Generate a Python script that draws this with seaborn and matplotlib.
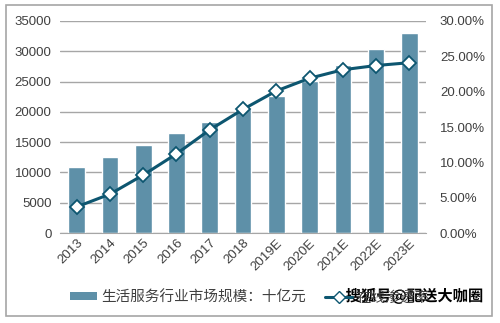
import matplotlib
matplotlib.use("Agg")
import matplotlib.pyplot as plt
import seaborn as sns
import pandas as pd
import numpy as np
from matplotlib.patches import Patch, Rectangle
from matplotlib.lines import Line2D
from matplotlib.ticker import FuncFormatter, MultipleLocator
import matplotlib.patheffects as pe

years = ["2013", "2014", "2015", "2016", "2017", "2018", "2019E", "2020E", "2021E", "2022E", "2023E"]
market_size = [10900, 12600, 14600, 16500, 18400, 20700, 22700, 25100, 27700, 30400, 33000]
online_rate = [0.037, 0.055, 0.082, 0.112, 0.146, 0.175, 0.201, 0.219, 0.231, 0.237, 0.241]
bar_label = "生活服务行业市场规模：十亿元"
line_label = "在线渗透率"
watermark = "搜狐号@配送大咖圈"

sns.set_style("white")
plt.rcParams['font.family'] = ['Liberation Sans', 'Noto Sans CJK SC', 'DejaVu Sans']

bar_color = "#5E90A8"
line_color = "#0D5670"
text_color = "#404040"

df = pd.DataFrame({"year": years, "size": market_size, "rate": online_rate,
                   "pos": np.arange(len(years))})

fig = plt.figure(figsize=(5.0, 3.23), dpi=100)
ax = fig.add_axes([0.12, 0.2786, 0.732, 0.6564])

sns.barplot(data=df, x="year", y="size", color=bar_color, width=0.5, saturation=1,
            ax=ax, zorder=2)
ax.set_xlim(-0.5, len(years) - 0.5)
ax.set_ylim(0, 35000)
ax.yaxis.set_major_locator(MultipleLocator(5000))
ax.grid(axis="y", color="#A6A6A6", linewidth=1.0, zorder=0)
ax.set_axisbelow(True)
ax.set_xlabel("")
ax.set_ylabel("")
for s in ["top", "left", "right"]:
    ax.spines[s].set_visible(False)
ax.spines["bottom"].set_color("#A6A6A6")
ax.tick_params(axis="y", length=0, labelsize=9.5, labelcolor=text_color, pad=6)
ax.tick_params(axis="x", length=0, labelsize=9.5, labelcolor=text_color, pad=3)
for lbl in ax.get_xticklabels():
    lbl.set_rotation(45)
    lbl.set_ha("right")
    lbl.set_rotation_mode("anchor")

ax2 = ax.twinx()
sns.lineplot(data=df, x="pos", y="rate", color=line_color, linewidth=2.2,
             marker="D", markersize=7, markerfacecolor="white",
             markeredgecolor=line_color, markeredgewidth=1.3, ax=ax2, zorder=3)
ax2.set_ylim(0, 0.30)
ax2.set_xlim(-0.5, len(years) - 0.5)
ax2.yaxis.set_major_locator(MultipleLocator(0.05))
ax2.yaxis.set_major_formatter(FuncFormatter(lambda v, p: f"{v*100:.2f}%"))
ax2.set_ylabel("")
ax2.set_xlabel("")
for s in ["top", "left", "right", "bottom"]:
    ax2.spines[s].set_visible(False)
ax2.tick_params(axis="y", length=0, labelsize=9.5, labelcolor=text_color, pad=10)

handles = [Patch(facecolor=bar_color, edgecolor="none"),
           Line2D([0], [0], color=line_color, linewidth=2.2, marker="D", markersize=6,
                  markerfacecolor="white", markeredgecolor=line_color)]
fig.legend(handles, [bar_label, line_label], loc="center left", bbox_to_anchor=(0.14, 0.08),
           ncol=2, frameon=False, fontsize=10.5, handlelength=1.85, handleheight=0.5,
           columnspacing=1.3, labelcolor=text_color, handletextpad=0.3,
           borderpad=0, borderaxespad=0)

fig.patches.append(Rectangle((6/500, 1 - 316/323), 486/500, 311/323, transform=fig.transFigure,
                             fill=False, edgecolor="#A6A6A6", linewidth=1.2))

fig.text(0.966, 0.083, watermark, ha="right", va="center", fontsize=11, fontweight="bold",
         color="black", family=['Noto Sans CJK SC', 'DejaVu Sans'],
         path_effects=[pe.withStroke(linewidth=2.5, foreground="white")])

fig.savefig("out.png", dpi=100)
